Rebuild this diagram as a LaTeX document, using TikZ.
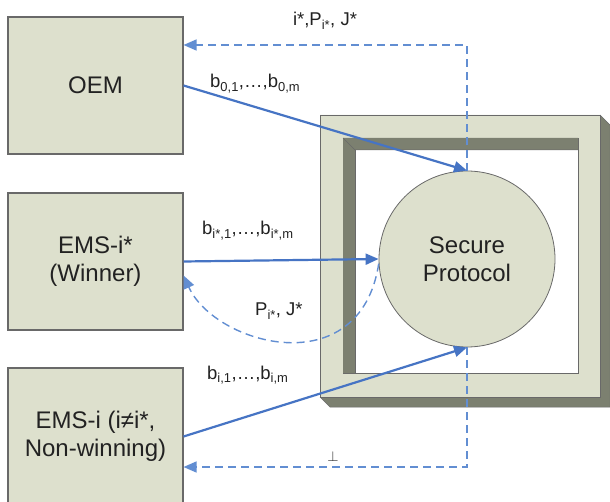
\documentclass[tikz,border=0pt]{standalone}
\usepackage{fontspec}
\setmainfont{Liberation Sans}
\usetikzlibrary{arrows.meta,calc}
\definecolor{boxfill}{RGB}{221,224,205}
\definecolor{shadowcol}{RGB}{124,128,112}
\definecolor{edge}{RGB}{105,105,105}
\definecolor{solidblue}{RGB}{70,116,196}
\definecolor{dashblue}{RGB}{98,142,210}
\definecolor{ink}{RGB}{34,34,34}
\begin{document}
\begin{tikzpicture}[x=1pt,y=-1pt,
  entity/.style={draw=edge, line width=1.1pt, fill=boxfill, minimum width=175pt, minimum height=137pt,
    align=center, font=\fontsize{24}{28}\selectfont, text=ink, inner sep=0pt},
  proto/.style={circle, draw=edge, line width=0.8pt, fill=boxfill, minimum size=176pt,
    align=center, font=\fontsize{24}{28}\selectfont, text=ink, inner sep=0pt},
  flow/.style={solidblue, line width=2.2pt, -{Triangle[length=13pt,width=11pt]}},
  reply/.style={dashblue, line width=1.4pt, dash pattern=on 8pt off 5pt, -{Triangle[length=13pt,width=11pt]}},
  lbl/.style={font=\fontsize{18.5}{21}\selectfont, text=ink, inner sep=0pt}
]
\clip (0,0) rectangle (610,502);
\fill[white] (0,0) rectangle (610,502);

% frame
\fill[shadowcol] (320,397) -- (330,407) -- (610,407) -- (610,125) -- (600,115) -- (600,397) -- cycle;
\draw[edge, line width=0.5pt] (320,397) -- (330,407) -- (610,407) -- (610,125) -- (600,115);
\draw[edge, line width=0.6pt, fill=boxfill, even odd rule] (320,115) rectangle (600,397) (343,138) rectangle (578,373);
\fill[shadowcol] (343,138) -- (578,138) -- (578,150) -- (355,150) -- (355,373) -- (343,373) -- cycle;
\draw[edge, line width=0.5pt] (343,138) -- (355,150) -- (578,150);
\draw[edge, line width=0.5pt] (355,150) -- (355,373);

% nodes
\node[entity] (oem) at (95.5,85.5) {OEM};
\node[entity] (ems1) at (95.5,261.5) {EMS-i*\\(Winner)};
\node[entity] (ems2) at (95.5,436.5) {EMS-i (i≠i*,\\Non-winning)};
\node[proto] (sp) at (467,259) {Secure\\Protocol};

\coordinate (tc) at (467,45);
\coordinate (bc) at (467,467);

% connectors
\draw[reply] (sp.north) -- (tc) -- (tc -| oem.east);
\draw[reply] (sp.south) -- (bc) -- (bc -| ems2.east);
\draw[flow] (oem.east) -- (sp.north);
\draw[flow] (ems1.east) -- (sp.west);
\draw[flow] (ems2.east) -- (sp.south);
\draw[reply] (sp.183) .. controls (360,385) and (215,345) .. ($(ems1.east)+(0,14)$);

% labels
\node[lbl, anchor=base] (l1) at (325,26) {i*,P\textsubscript{i*}, J*};
\node[lbl, anchor=base west] (l2) at (210,88) {b\textsubscript{0,1},…,b\textsubscript{0,m}};
\node[lbl, anchor=base west] (l3) at (202,235) {b\textsubscript{i*,1},…,b\textsubscript{i*,m}};
\node[lbl, anchor=base west] (l4) at (255,316) {P\textsubscript{i*}, J*};
\node[lbl, anchor=base west] (l5) at (207,379) {b\textsubscript{i,1},…,b\textsubscript{i,m}};
\node[anchor=base, inner sep=0pt, text=ink, font=\fontsize{14}{16}\selectfont] (l6) at (333,461) {$\perp$};
\end{tikzpicture}
\end{document}
